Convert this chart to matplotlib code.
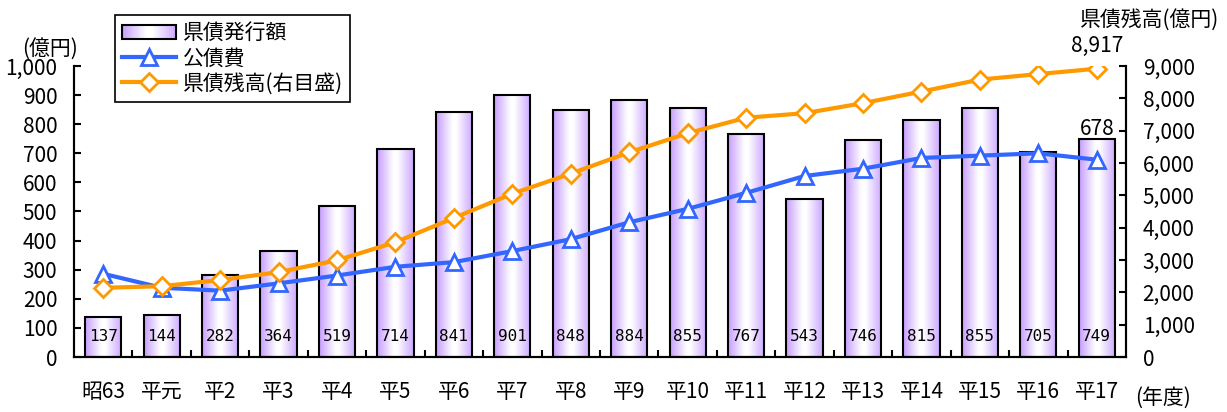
import numpy as np
import matplotlib
matplotlib.use("Agg")
import matplotlib.pyplot as plt
from matplotlib.ticker import FuncFormatter, MultipleLocator, FixedLocator
from matplotlib.legend_handler import HandlerBase
from matplotlib.patches import Rectangle, Patch
from matplotlib.lines import Line2D
from matplotlib.colors import LinearSegmentedColormap

plt.rcParams['font.family'] = ['Noto Sans CJK JP', 'DejaVu Sans']

# 年度ごとのデータ
years = ["昭63", "平元", "平2", "平3", "平4", "平5", "平6", "平7", "平8",
         "平9", "平10", "平11", "平12", "平13", "平14", "平15", "平16", "平17"]
issued = [137, 144, 282, 364, 519, 714, 841, 901, 848,
          884, 855, 767, 543, 746, 815, 855, 705, 749]          # 県債発行額
debt_service = [286, 238, 228, 253, 280, 310, 326, 364, 405,
                463, 509, 564, 622, 647, 684, 692, 700, 678]    # 公債費
balance = [2140, 2190, 2380, 2625, 2990, 3550, 4300, 5050, 5670,
           6330, 6920, 7400, 7540, 7850, 8210, 8580, 8750, 8917]  # 県債残高

W, H = 1227, 412
BLUE = "#3366ff"
ORANGE = "#ff9900"
FS = 15

# 棒グラフのグラデーション（端が紫、中央が白）
grad_cmap = LinearSegmentedColormap.from_list(
    "bar", [(0.0, (0.78, 0.62, 1.0)), (0.45, (1.0, 1.0, 1.0)),
            (0.55, (1.0, 1.0, 1.0)), (1.0, (0.80, 0.66, 1.0))])


class GradientHandler(HandlerBase):
    def create_artists(self, legend, orig_handle, xdescent, ydescent,
                       width, height, fontsize, trans):
        n = 30
        arts = []
        for i in range(n):
            r = Rectangle((-xdescent + i * width / n, -ydescent), width / n + 0.3,
                          height, facecolor=grad_cmap((i + 0.5) / n),
                          edgecolor="none", transform=trans)
            arts.append(r)
        arts.append(Rectangle((-xdescent, -ydescent), width, height, fill=False,
                              edgecolor="black", lw=1.5, transform=trans))
        return arts


fig = plt.figure(figsize=(W / 100, H / 100), dpi=100)
ax = fig.add_axes([74 / W, 1 - 357 / H, (1126 - 74) / W, (357 - 66) / H])
ax2 = ax.twinx()

x = np.arange(len(years))
bw = 0.62
gradient = np.linspace(0, 1, 64).reshape(1, -1)

bars = ax.bar(x, issued, width=bw, facecolor="none", edgecolor="black",
              linewidth=1.5, zorder=3)
for rect, v in zip(bars, issued):
    x0 = rect.get_x()
    ax.imshow(gradient, cmap=grad_cmap, aspect="auto", zorder=2,
              extent=(x0, x0 + bw, 0, v), interpolation="bicubic")
    ax.text(x0 + bw / 2, 70, f"{v}", ha="center", va="center",
            fontsize=11.5, family="DejaVu Sans Mono", zorder=4)

ax.plot(x, debt_service, color=BLUE, lw=3, marker="^", markersize=12,
        markerfacecolor="white", markeredgecolor=BLUE, markeredgewidth=2,
        zorder=5)
ax2.plot(x, balance, color=ORANGE, lw=3, marker="D", markersize=9.5,
         markerfacecolor="white", markeredgecolor=ORANGE, markeredgewidth=2,
         zorder=5)

ax.set_xlim(-0.5, len(years) - 0.5)
ax.set_ylim(0, 1000)
ax2.set_ylim(0, 9000)

fmt = FuncFormatter(lambda v, p: f"{int(v):,}")
ax.yaxis.set_major_locator(MultipleLocator(100))
ax.yaxis.set_major_formatter(fmt)
ax2.yaxis.set_major_locator(MultipleLocator(1000))
ax2.yaxis.set_major_formatter(fmt)

ax.set_xticks(x)
ax.set_xticklabels(years)
ax.xaxis.set_minor_locator(FixedLocator(np.arange(0.5, len(years) - 1, 1)))
ax.tick_params(axis="x", which="major", length=0, pad=17, labelsize=FS)
ax.tick_params(axis="x", which="minor", direction="in", length=5, width=1.5)
ax.tick_params(axis="y", direction="in", length=5, width=1.5, pad=12, labelsize=FS)
ax2.tick_params(axis="y", direction="in", length=5, width=1.5, pad=12, labelsize=FS)

for a in (ax, ax2):
    a.spines["top"].set_visible(False)
    for s in ("left", "right", "bottom"):
        a.spines[s].set_linewidth(1.5)

# 値ラベル
ax.annotate(f"{debt_service[-1]}", (x[-1], issued[-1]), xytext=(0, 3),
            textcoords="offset points", ha="center", va="baseline", fontsize=FS)
ax2.annotate(f"{balance[-1]:,}", (x[-1], balance[-1]), xytext=(0, 12),
             textcoords="offset points", ha="center", va="baseline", fontsize=FS)

fig.text(50 / W, 1 - 49 / H, "(億円)", ha="center", va="center", fontsize=FS)
fig.text(1219 / W, 1 - 20 / H, "県債残高(億円)", ha="right", va="center", fontsize=FS)
fig.text(1163 / W, 1 - 398 / H, "(年度)", ha="center", va="center", fontsize=FS)

handles = [Patch(label="県債発行額"),
           Line2D([], [], color=BLUE, lw=3, marker="^", markersize=12,
                  markerfacecolor="white", markeredgecolor=BLUE,
                  markeredgewidth=2, label="公債費"),
           Line2D([], [], color=ORANGE, lw=3, marker="D", markersize=9.5,
                  markerfacecolor="white", markeredgecolor=ORANGE,
                  markeredgewidth=2, label="県債残高(右目盛)")]
leg = fig.legend(handles=handles, loc="upper left",
                 bbox_to_anchor=(115 / W, 1 - 15 / H), borderaxespad=0,
                 fontsize=FS, handlelength=2.6, handletextpad=0.3,
                 labelspacing=0.15, borderpad=0.35, fancybox=False,
                 framealpha=1, edgecolor="black",
                 handler_map={Patch: GradientHandler()})
leg.get_frame().set_linewidth(1.2)

fig.savefig("out.png", dpi=100)
